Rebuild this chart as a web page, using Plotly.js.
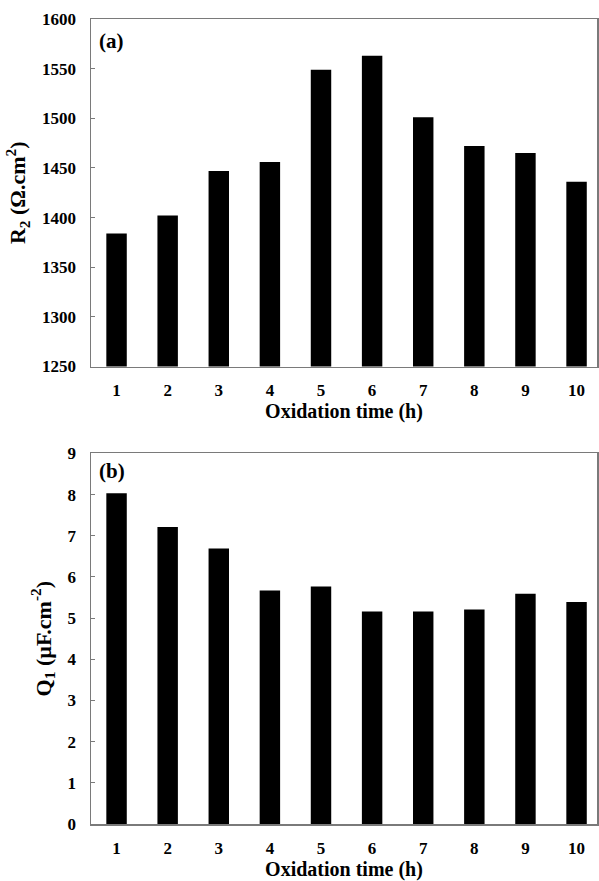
<!DOCTYPE html>
<html>
<head>
<meta charset="utf-8">
<script src="https://cdn.plot.ly/plotly-3.0.1.min.js"></script>
<style>html,body{margin:0;padding:0;background:#fff;}#chart{width:599px;height:881px;}</style>
</head>
<body>
<div id="chart"></div>
<script>
const hours = [1, 2, 3, 4, 5, 6, 7, 8, 9, 10];
const tickLabels = ["1", "2", "3", "4", "5", "6", "7", "8", "9", "10"];
const r2Values = [1384, 1402, 1447, 1456, 1549, 1563, 1501, 1472, 1465, 1436];
const q1Values = [8.03, 7.21, 6.69, 5.67, 5.77, 5.16, 5.16, 5.21, 5.59, 5.39];

const FONT = "Liberation Serif, Times New Roman, serif";
const tickFont = {family: FONT, size: 17, color: "#000", weight: "bold"};
const titleFont = {family: FONT, size: 20, color: "#000", weight: "bold"};
const yTitleFont = {family: FONT, size: 22, color: "#000", weight: "bold"};

const traces = [
  {type: "bar", x: hours, y: r2Values, xaxis: "x", yaxis: "y",
   marker: {color: "#000", line: {width: 0}}, hoverinfo: "x+y", showlegend: false},
  {type: "bar", x: hours, y: q1Values, xaxis: "x2", yaxis: "y2",
   marker: {color: "#000", line: {width: 0}}, hoverinfo: "x+y", showlegend: false}
];

const xCommon = {
  range: [0.5, 10.4], tickvals: hours, ticktext: tickLabels,
  showgrid: false, zeroline: false, showline: true, mirror: true,
  linecolor: "#7a7a7a", linewidth: 1.5, ticks: "", tickfont: tickFont,
  ticklabelstandoff: 8, fixedrange: true
};
const yCommon = {
  showgrid: false, zeroline: false, showline: true, mirror: true,
  linecolor: "#7a7a7a", linewidth: 1.5, ticks: "inside", ticklen: 4,
  tickcolor: "#7a7a7a", tickfont: tickFont, ticklabelstandoff: 10, fixedrange: true
};

const layout = {
  width: 599, height: 881,
  margin: {l: 91, r: 2, t: 19, b: 57},
  paper_bgcolor: "#fff", plot_bgcolor: "#fff",
  bargap: 0.6,
  showlegend: false,
  xaxis: Object.assign({}, xCommon, {anchor: "y",
    title: {text: "Oxidation time (h)", font: titleFont, standoff: 2}}),
  yaxis: Object.assign({}, yCommon, {domain: [0.5683, 1], range: [1250, 1600], dtick: 50,
    anchor: "x",
    title: {text: "R<sub>2</sub> (Ω.cm<sup>2</sup>)", font: yTitleFont, standoff: 10}}),
  xaxis2: Object.assign({}, xCommon, {anchor: "y2",
    title: {text: "Oxidation time (h)", font: titleFont, standoff: 2}}),
  yaxis2: Object.assign({}, yCommon, {domain: [0, 0.4604], range: [0, 9], dtick: 1,
    anchor: "x2",
    title: {text: "Q<sub>1</sub> (µF.cm<sup>-2</sup>)", font: yTitleFont, standoff: 10}}),
  annotations: [
    {text: "(a)", xref: "x", yref: "y domain", x: 0.5, y: 1, xanchor: "left", yanchor: "top",
     xshift: 6, yshift: -8, showarrow: false, font: {family: FONT, size: 21, color: "#000", weight: "bold"}},
    {text: "(b)", xref: "x2", yref: "y2 domain", x: 0.5, y: 1, xanchor: "left", yanchor: "top",
     xshift: 6, yshift: -4, showarrow: false, font: {family: FONT, size: 21, color: "#000", weight: "bold"}}
  ]
};

Plotly.newPlot("chart", traces, layout, {displayModeBar: false, staticPlot: true});
</script>
</body>
</html>
